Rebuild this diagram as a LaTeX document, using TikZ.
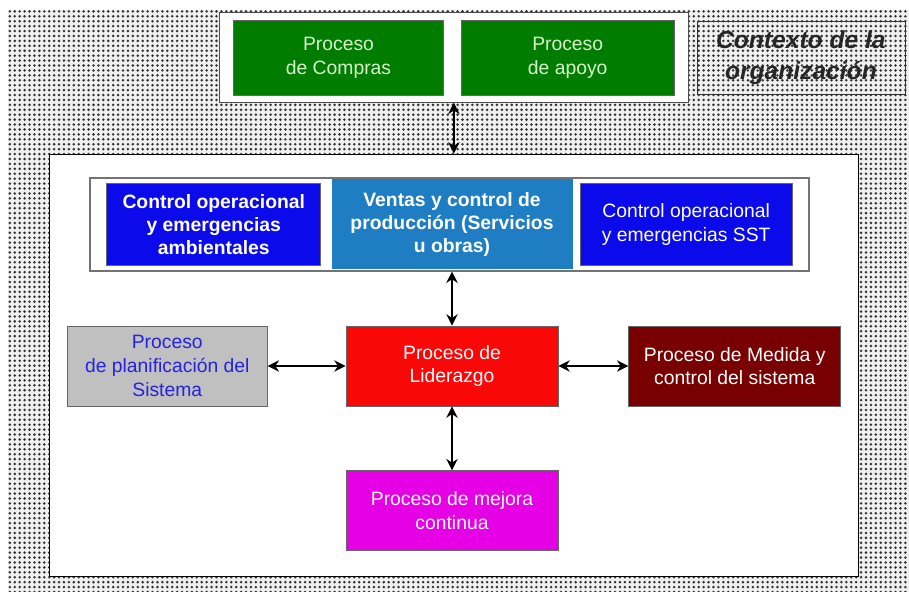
\documentclass[tikz,border=0pt]{standalone}
\usepackage{fontspec}
\setmainfont{Liberation Sans}
\usetikzlibrary{arrows.meta,positioning,fit,patterns,backgrounds}

\definecolor{verde}{RGB}{0,125,0}
\definecolor{verdetxt}{RGB}{215,245,205}
\definecolor{azul}{RGB}{10,10,235}
\definecolor{celeste}{RGB}{30,125,195}
\definecolor{gris}{RGB}{192,192,192}
\definecolor{azultxt}{RGB}{35,35,225}
\definecolor{rojo}{RGB}{250,8,8}
\definecolor{granate}{RGB}{120,0,0}
\definecolor{magenta}{RGB}{230,0,230}

% dotted background of the context
\pgfdeclarepatternformonly{puntos}{\pgfqpoint{-1pt}{-1pt}}{\pgfqpoint{1pt}{1pt}}{\pgfqpoint{2.8pt}{2.8pt}}{
    \pgfpathcircle{\pgfqpoint{0pt}{0pt}}{0.8pt}
    \pgfusepath{fill}
}

\begin{document}
\begin{tikzpicture}[
            > = {Stealth[length=6.5pt,width=6.5pt]}, % arrow head style
            font = \fontsize{11}{13.5}\selectfont,
            node distance = 1.2cm % distance between nodes
        ]

        \tikzstyle{proc}=[
            draw = black!60,
            thin,
            minimum width = 4.24cm,
            minimum height = 1.6cm,
            align = center,
            text = white,
            inner sep = 2pt
        ]
        \tikzstyle{negrita}=[font = \fontsize{11}{13}\selectfont\bfseries]
        \tikzstyle{frame}=[draw = black!70, fill = white, thin, inner sep = 0pt]
        \tikzstyle{flecha}=[<->, line width = 1pt]

        \useasboundingbox (0,0) rectangle (18.18,-11.84);

        % central row
        \node[proc, fill=rojo] (lider) at (9.04,-7.32) {Proceso de\\Liderazgo};
        \node[proc, fill=gris, text=azultxt, minimum width=4cm] (plan) [left=1.56cm of lider] {Proceso\\de planificación del\\Sistema};
        \node[proc, fill=granate] (medida) [right=1.4cm of lider] {Proceso de Medida y\\control del sistema};
        \node[proc, fill=magenta] (mejora) [below=1.28cm of lider] {Proceso de mejora\\continua};

        % operational row
        \node[proc, negrita, fill=celeste, draw=none, minimum width=4.82cm, minimum height=1.8cm] (ventas) [above=1.12cm of lider] {Ventas y control de\\producción (Servicios\\u obras)};
        \node[proc, negrita, fill=azul, minimum width=4.28cm, minimum height=1.64cm] (amb) [left=0.2cm of ventas] {Control operacional\\y emergencias\\ambientales};
        \node[proc, fill=azul, minimum width=4.24cm, minimum height=1.64cm] (sst) [right=0.14cm of ventas] {Control operacional\\y emergencias SST};

        % support row
        \node[proc, fill=verde, text=verdetxt, minimum width=4.2cm, minimum height=1.5cm] (compras) at (6.77,-1.15) {Proceso\\de Compras};
        \node[proc, fill=verde, text=verdetxt, minimum width=4.26cm, minimum height=1.5cm] (apoyo) [right=0.34cm of compras] {Proceso\\de apoyo};
        \node[draw=black!80, minimum width=4.16cm, minimum height=1.46cm, align=center, text=black!85,
              font=\fontsize{14}{18}\selectfont\bfseries\itshape] (contexto) [right=0.44cm of apoyo] {Contexto de la\\organización};

        \begin{pgfonlayer}{background}
            \path[fill=gray!12, postaction={pattern=puntos, pattern color=black!80}] (0.16,-0.2) rectangle (18.18,-11.84);
            \node[frame, fit=(compras)(apoyo), inner xsep=0.28cm, inner ysep=0.14cm] (topframe) {};
            \node[frame, draw=black, fit=(plan)(medida)(mejora)(ventas), inner xsep=0.35cm, inner ysep=0.5cm] (mainframe) {};
            \node[frame, draw=black!55, line width=1pt, fit=(amb)(ventas)(sst), inner xsep=0.33cm, inner ysep=0.02cm] (innerframe) {};
        \end{pgfonlayer}

        \draw[flecha] (topframe.south) -- (topframe.south |- mainframe.north);
        \draw[flecha] (lider.north |- innerframe.south) -- (lider.north);
        \draw[flecha] (plan) -- (lider);
        \draw[flecha] (lider) -- (medida);
        \draw[flecha] (lider) -- (mejora);

    \end{tikzpicture}
\end{document}
